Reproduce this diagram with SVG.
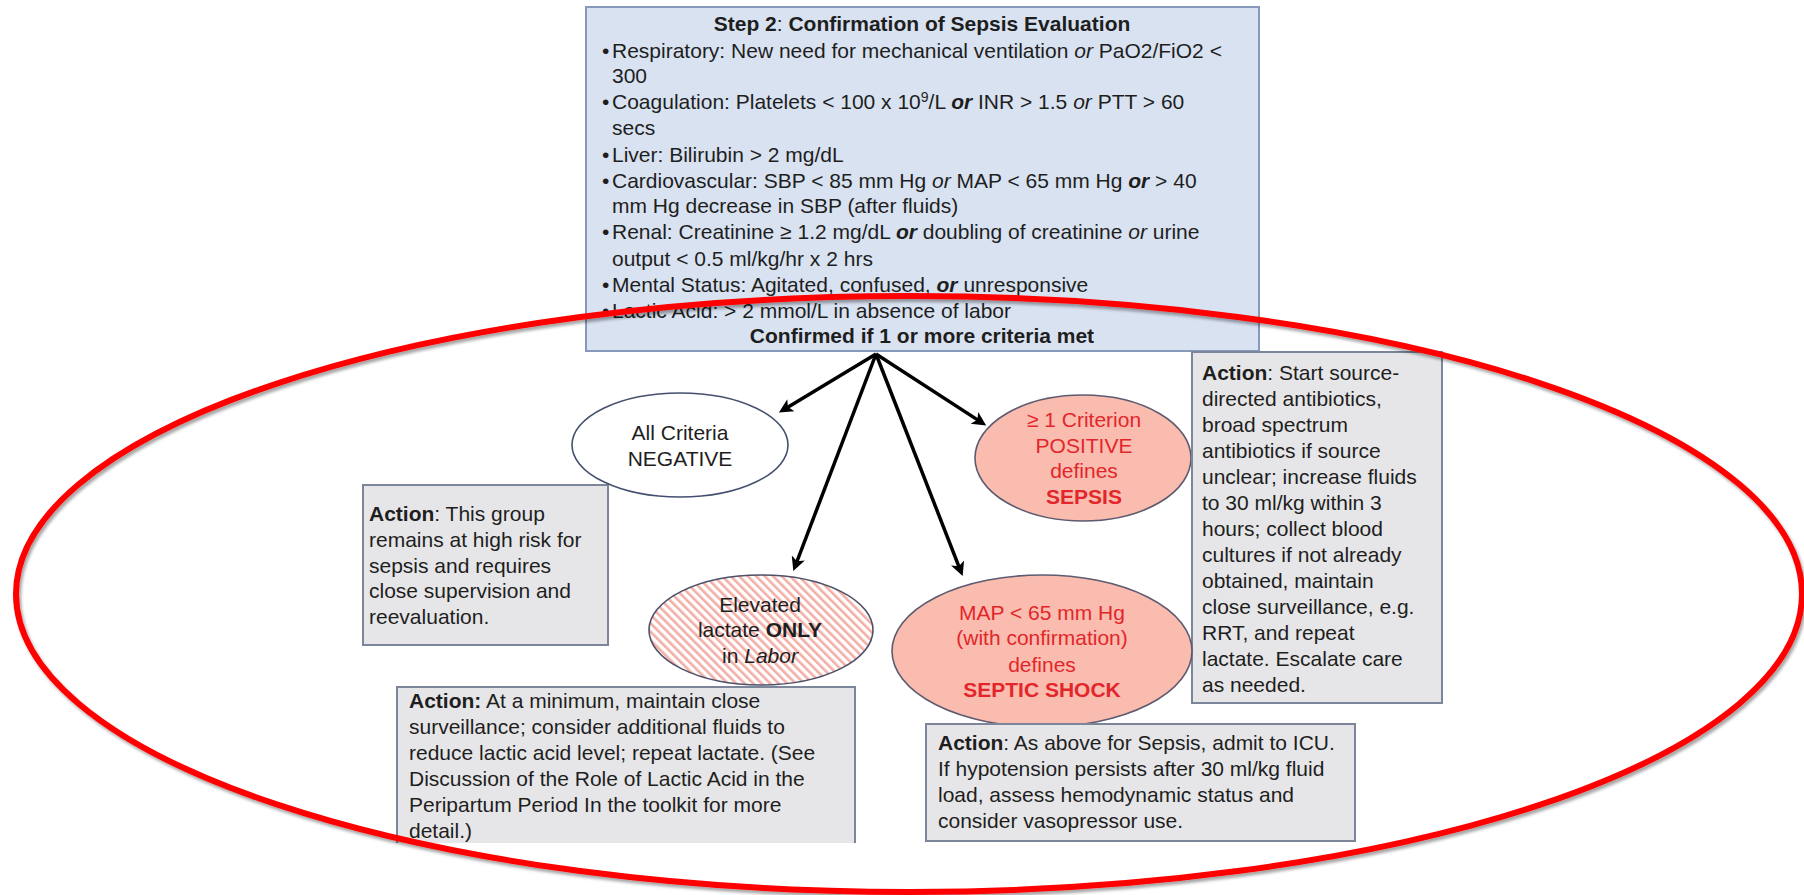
<svg xmlns="http://www.w3.org/2000/svg" width="1804" height="895" viewBox="0 0 1804 895">
<style>
.t{font-family:"Liberation Sans",Arial,Helvetica,sans-serif;font-size:21px;fill:#1e1e1e}
.c{text-anchor:middle}
.b{font-weight:bold}
.i{font-style:italic}
.bi{font-weight:bold;font-style:italic}
.red{fill:#e3262b}
.act{fill:#e6e6e8;stroke:#7c859a;stroke-width:2}
.conn{fill:none;stroke:#000;stroke-width:3.5;marker-end:url(#ah)}
.pink{fill:#f9bcae;stroke:#5e5a70;stroke-width:1.6}
</style>
<defs>
<marker id="ah" viewBox="0 0 10 10" refX="5" refY="5" markerWidth="16" markerHeight="14" markerUnits="userSpaceOnUse" orient="auto">
<path d="M0,0 L10,5 L0,10 L2.5,5 z" fill="#000"/>
</marker>
<pattern id="hatch" width="6" height="6" patternUnits="userSpaceOnUse" patternTransform="rotate(-45)">
<rect width="6" height="6" fill="#ffffff"/>
<rect width="2.6" height="6" fill="#f3aea6"/>
</pattern>
<filter id="sh" x="-5%" y="-5%" width="110%" height="110%">
<feDropShadow dx="2" dy="3" stdDeviation="1.6" flood-color="#000" flood-opacity="0.35"/>
</filter>
</defs>
<rect width="1804" height="895" fill="#ffffff"/>

<g id="step2">
<rect x="586" y="7" width="673" height="344" fill="#d9e2f1" stroke="#8799bb" stroke-width="2"/>
<text class="t c" x="922" y="31"><tspan class="b">Step 2</tspan>: <tspan class="b">Confirmation of Sepsis Evaluation</tspan></text>
<text class="t" x="602" y="58">•</text>
<text class="t" x="612" y="58">Respiratory: New need for mechanical ventilation <tspan class="i">or</tspan> PaO2/FiO2 &lt;</text>
<text class="t" x="612" y="83">300</text>
<text class="t" x="602" y="109">•</text>
<text class="t" x="612" y="109">Coagulation: Platelets &lt; 100 x 10<tspan dy="-7" font-size="14">9</tspan><tspan dy="7">/L </tspan><tspan class="bi">or</tspan> INR &gt; 1.5 <tspan class="i">or</tspan> PTT &gt; 60</text>
<text class="t" x="612" y="135">secs</text>
<text class="t" x="602" y="162">•</text>
<text class="t" x="612" y="162">Liver: Bilirubin &gt; 2 mg/dL</text>
<text class="t" x="602" y="188">•</text>
<text class="t" x="612" y="188">Cardiovascular: SBP &lt; 85 mm Hg <tspan class="i">or</tspan> MAP &lt; 65 mm Hg <tspan class="bi">or</tspan> &gt; 40</text>
<text class="t" x="612" y="213">mm Hg decrease in SBP (after fluids)</text>
<text class="t" x="602" y="239">•</text>
<text class="t" x="612" y="239">Renal: Creatinine ≥ 1.2 mg/dL <tspan class="bi">or</tspan> doubling of creatinine <tspan class="i">or</tspan> urine</text>
<text class="t" x="612" y="266">output &lt; 0.5 ml/kg/hr x 2 hrs</text>
<text class="t" x="602" y="292">•</text>
<text class="t" x="612" y="292">Mental Status: Agitated, confused, <tspan class="bi">or</tspan> unresponsive</text>
<text class="t" x="602" y="318">•</text>
<text class="t" x="612" y="318">Lactic Acid: &gt; 2 mmol/L in absence of labor</text>
<text class="t c b" x="922" y="343">Confirmed if 1 or more criteria met</text>
</g>

<g id="connectors">
<path class="conn" d="M876,354 L784.9,408.9"/>
<path class="conn" d="M876,354 L795.8,564.5"/>
<path class="conn" d="M876,354 L960.1,569.6"/>
<path class="conn" d="M876,354 L980.3,421.6"/>
</g>

<g id="negative-action">
<rect class="act" x="363" y="485" width="245" height="160"/>
<text class="t" x="369" y="521"><tspan class="b">Action</tspan>: This group</text>
<text class="t" x="369" y="547">remains at high risk for</text>
<text class="t" x="369" y="573">sepsis and requires</text>
<text class="t" x="369" y="598">close supervision and</text>
<text class="t" x="369" y="624">reevaluation.</text>
</g>

<g id="negative">
<ellipse cx="680" cy="445" rx="108" ry="52" fill="#ffffff" stroke="#44506e" stroke-width="1.6"/>
<text class="t c" x="680" y="440">All Criteria</text>
<text class="t c" x="680" y="466">NEGATIVE</text>
</g>

<g id="sepsis">
<ellipse class="pink" cx="1083" cy="458" rx="108" ry="63"/>
<text class="t c red" x="1084" y="427">≥ 1 Criterion</text>
<text class="t c red" x="1084" y="453">POSITIVE</text>
<text class="t c red" x="1084" y="478">defines</text>
<text class="t c red b" x="1084" y="504">SEPSIS</text>
</g>

<g id="sepsis-action">
<rect class="act" x="1192" y="352" width="250" height="351"/>
<text class="t" x="1202" y="380"><tspan class="b">Action</tspan>: Start source-</text>
<text class="t" x="1202" y="406">directed antibiotics,</text>
<text class="t" x="1202" y="432">broad spectrum</text>
<text class="t" x="1202" y="458">antibiotics if source</text>
<text class="t" x="1202" y="484">unclear; increase fluids</text>
<text class="t" x="1202" y="510">to 30 ml/kg within 3</text>
<text class="t" x="1202" y="536">hours; collect blood</text>
<text class="t" x="1202" y="562">cultures if not already</text>
<text class="t" x="1202" y="588">obtained, maintain</text>
<text class="t" x="1202" y="614">close surveillance, e.g.</text>
<text class="t" x="1202" y="640">RRT, and repeat</text>
<text class="t" x="1202" y="666">lactate. Escalate care</text>
<text class="t" x="1202" y="692">as needed.</text>
</g>

<g id="lactate">
<ellipse cx="761" cy="630" rx="112" ry="55" fill="url(#hatch)" stroke="#4e5068" stroke-width="1.6"/>
<text class="t c" x="760" y="612">Elevated</text>
<text class="t c" x="760" y="637">lactate <tspan class="b">ONLY</tspan></text>
<text class="t c" x="760" y="663">in <tspan class="i">Labor</tspan></text>
</g>

<g id="lactate-action">
<rect x="397" y="687" width="458" height="156" fill="#e6e6e8"/>
<path d="M397,843 V687 H855 V843" fill="none" stroke="#7c859a" stroke-width="2"/>
<text class="t" x="409" y="708"><tspan class="b">Action:</tspan> At a minimum, maintain close</text>
<text class="t" x="409" y="734">surveillance; consider additional fluids to</text>
<text class="t" x="409" y="760">reduce lactic acid level; repeat lactate. (See</text>
<text class="t" x="409" y="786">Discussion of the Role of Lactic Acid in the</text>
<text class="t" x="409" y="812">Peripartum Period In the toolkit for more</text>
<text class="t" x="409" y="838">detail.)</text>
</g>

<g id="shock">
<ellipse class="pink" cx="1042" cy="651" rx="150" ry="76"/>
<text class="t c red" x="1042" y="620">MAP &lt; 65 mm Hg</text>
<text class="t c red" x="1042" y="645">(with confirmation)</text>
<text class="t c red" x="1042" y="672">defines</text>
<text class="t c red b" x="1042" y="697">SEPTIC SHOCK</text>
</g>

<g id="shock-action">
<rect class="act" x="926" y="724" width="429" height="117"/>
<text class="t" x="938" y="750"><tspan class="b">Action</tspan>: As above for Sepsis, admit to ICU.</text>
<text class="t" x="938" y="776">If hypotension persists after 30 ml/kg fluid</text>
<text class="t" x="938" y="802">load, assess hemodynamic status and</text>
<text class="t" x="938" y="828">consider vasopressor use.</text>
</g>

<g id="highlight">
<ellipse cx="909" cy="594" rx="893" ry="298" fill="none" stroke="#ff0000" stroke-width="6" filter="url(#sh)"/>
</g>
</svg>
